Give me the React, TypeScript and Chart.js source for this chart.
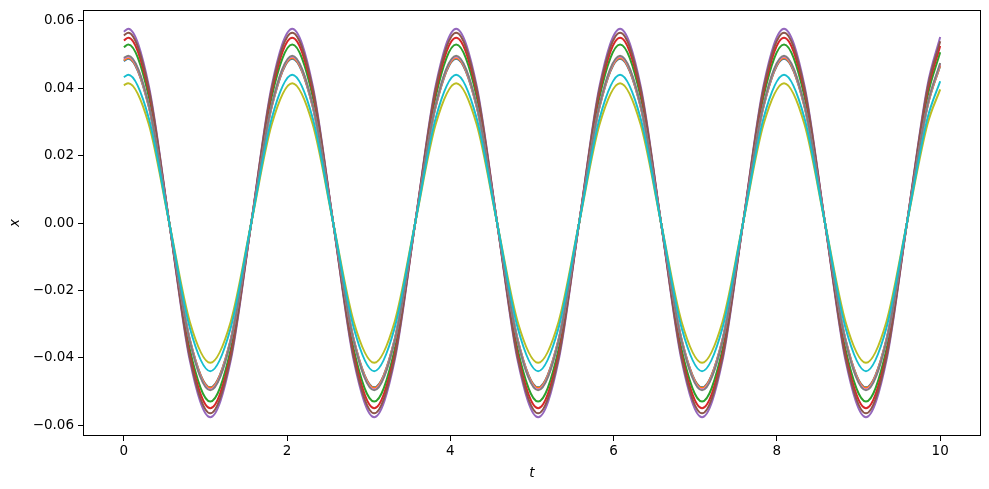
import React, { useEffect, useRef } from "react";
import { Chart, registerables } from "chart.js";

Chart.register(...registerables);

// Sample times (s): start, then every eighth of a period from the first peak, then the end.
const T = [
  0,
  0.055, 0.306, 0.557, 0.808, 1.059, 1.310, 1.561, 1.812,
  2.063, 2.314, 2.565, 2.816, 3.067, 3.318, 3.569, 3.820,
  4.071, 4.322, 4.573, 4.824, 5.075, 5.326, 5.577, 5.828,
  6.079, 6.330, 6.581, 6.832, 7.083, 7.334, 7.585, 7.836,
  8.087, 8.338, 8.589, 8.840, 9.091, 9.342, 9.593, 9.844,
  10.0,
];

const BLUE = [
  0.0481,
  0.0488, 0.0345, 0, -0.0345, -0.0488, -0.0345, 0, 0.0345,
  0.0488, 0.0345, 0, -0.0345, -0.0488, -0.0345, 0, 0.0345,
  0.0488, 0.0345, 0, -0.0345, -0.0488, -0.0345, 0, 0.0345,
  0.0488, 0.0345, 0, -0.0345, -0.0488, -0.0345, 0, 0.0345,
  0.0488, 0.0345, 0, -0.0345, -0.0488, -0.0345, 0, 0.0345,
  0.0467,
];
const ORANGE = [
  0.0483,
  0.0490, 0.0346, 0, -0.0346, -0.0490, -0.0346, 0, 0.0346,
  0.0490, 0.0346, 0, -0.0346, -0.0490, -0.0346, 0, 0.0346,
  0.0490, 0.0346, 0, -0.0346, -0.0490, -0.0346, 0, 0.0346,
  0.0490, 0.0346, 0, -0.0346, -0.0490, -0.0346, 0, 0.0346,
  0.0490, 0.0346, 0, -0.0346, -0.0490, -0.0346, 0, 0.0346,
  0.0468,
];
const GREEN = [
  0.0522,
  0.0530, 0.0375, 0, -0.0375, -0.0530, -0.0375, 0, 0.0375,
  0.0530, 0.0375, 0, -0.0375, -0.0530, -0.0375, 0, 0.0375,
  0.0530, 0.0375, 0, -0.0375, -0.0530, -0.0375, 0, 0.0375,
  0.0530, 0.0375, 0, -0.0375, -0.0530, -0.0375, 0, 0.0375,
  0.0530, 0.0375, 0, -0.0375, -0.0530, -0.0375, 0, 0.0375,
  0.0507,
];
const RED = [
  0.0542,
  0.0550, 0.0389, 0, -0.0389, -0.0550, -0.0389, 0, 0.0389,
  0.0550, 0.0389, 0, -0.0389, -0.0550, -0.0389, 0, 0.0389,
  0.0550, 0.0389, 0, -0.0389, -0.0550, -0.0389, 0, 0.0389,
  0.0550, 0.0389, 0, -0.0389, -0.0550, -0.0389, 0, 0.0389,
  0.0550, 0.0389, 0, -0.0389, -0.0550, -0.0389, 0, 0.0389,
  0.0526,
];
const PURPLE = [
  0.0568,
  0.0577, 0.0408, 0, -0.0408, -0.0577, -0.0408, 0, 0.0408,
  0.0577, 0.0408, 0, -0.0408, -0.0577, -0.0408, 0, 0.0408,
  0.0577, 0.0408, 0, -0.0408, -0.0577, -0.0408, 0, 0.0408,
  0.0577, 0.0408, 0, -0.0408, -0.0577, -0.0408, 0, 0.0408,
  0.0577, 0.0408, 0, -0.0408, -0.0577, -0.0408, 0, 0.0408,
  0.0552,
];
const BROWN = [
  0.0557,
  0.0565, 0.0399, 0, -0.0399, -0.0565, -0.0399, 0, 0.0399,
  0.0565, 0.0399, 0, -0.0399, -0.0565, -0.0399, 0, 0.0399,
  0.0565, 0.0399, 0, -0.0399, -0.0565, -0.0399, 0, 0.0399,
  0.0565, 0.0399, 0, -0.0399, -0.0565, -0.0399, 0, 0.0399,
  0.0565, 0.0399, 0, -0.0399, -0.0565, -0.0399, 0, 0.0399,
  0.0540,
];
const PINK = [
  0.0487,
  0.0494, 0.0349, 0, -0.0349, -0.0494, -0.0349, 0, 0.0349,
  0.0494, 0.0349, 0, -0.0349, -0.0494, -0.0349, 0, 0.0349,
  0.0494, 0.0349, 0, -0.0349, -0.0494, -0.0349, 0, 0.0349,
  0.0494, 0.0349, 0, -0.0349, -0.0494, -0.0349, 0, 0.0349,
  0.0494, 0.0349, 0, -0.0349, -0.0494, -0.0349, 0, 0.0349,
  0.0472,
];
const GRAY = [
  0.0490,
  0.0497, 0.0351, 0, -0.0351, -0.0497, -0.0351, 0, 0.0351,
  0.0497, 0.0351, 0, -0.0351, -0.0497, -0.0351, 0, 0.0351,
  0.0497, 0.0351, 0, -0.0351, -0.0497, -0.0351, 0, 0.0351,
  0.0497, 0.0351, 0, -0.0351, -0.0497, -0.0351, 0, 0.0351,
  0.0497, 0.0351, 0, -0.0351, -0.0497, -0.0351, 0, 0.0351,
  0.0475,
];
const OLIVE = [
  0.0409,
  0.0415, 0.0293, 0, -0.0293, -0.0415, -0.0293, 0, 0.0293,
  0.0415, 0.0293, 0, -0.0293, -0.0415, -0.0293, 0, 0.0293,
  0.0415, 0.0293, 0, -0.0293, -0.0415, -0.0293, 0, 0.0293,
  0.0415, 0.0293, 0, -0.0293, -0.0415, -0.0293, 0, 0.0293,
  0.0415, 0.0293, 0, -0.0293, -0.0415, -0.0293, 0, 0.0293,
  0.0397,
];
const CYAN = [
  0.0433,
  0.0440, 0.0311, 0, -0.0311, -0.0440, -0.0311, 0, 0.0311,
  0.0440, 0.0311, 0, -0.0311, -0.0440, -0.0311, 0, 0.0311,
  0.0440, 0.0311, 0, -0.0311, -0.0440, -0.0311, 0, 0.0311,
  0.0440, 0.0311, 0, -0.0311, -0.0440, -0.0311, 0, 0.0311,
  0.0440, 0.0311, 0, -0.0311, -0.0440, -0.0311, 0, 0.0311,
  0.0421,
];

const SERIES = [BLUE, ORANGE, GREEN, RED, PURPLE, BROWN, PINK, GRAY, OLIVE, CYAN];
const COLORS = [
  "#1f77b4", "#ff7f0e", "#2ca02c", "#d62728", "#9467bd",
  "#8c564b", "#e377c2", "#7f7f7f", "#bcbd22", "#17becf",
];

const X_TICKS = [0, 2, 4, 6, 8, 10];
const Y_TICKS = [-0.06, -0.04, -0.02, 0, 0.02, 0.04, 0.06];

const FONT = "'DejaVu Sans', sans-serif";

const boxPlugin = {
  id: "box",
  afterDraw(chart: any) {
    const { ctx, chartArea } = chart;
    ctx.save();
    ctx.strokeStyle = "#000";
    ctx.lineWidth = 1;
    ctx.strokeRect(
      Math.round(chartArea.left) + 0.5,
      Math.round(chartArea.top) + 0.5,
      Math.round(chartArea.right - chartArea.left) - 1,
      Math.round(chartArea.bottom - chartArea.top) - 1
    );
    ctx.restore();
  },
};

export default function App() {
  const ref = useRef<HTMLCanvasElement | null>(null);

  useEffect(() => {
    if (!ref.current) return;
    const datasets = SERIES.map((ys, i) => ({
      label: `x${i}`,
      data: ys.map((y, j) => ({ x: T[j], y })),
      borderColor: COLORS[i],
      backgroundColor: COLORS[i],
      borderWidth: 2,
      pointRadius: 0,
      fill: false,
      cubicInterpolationMode: "monotone" as const,
      order: SERIES.length - i,
    }));

    const chart = new Chart(ref.current, {
      type: "line",
      data: { datasets },
      plugins: [boxPlugin],
      options: {
        animation: false,
        responsive: false,
        layout: { padding: { left: 0, right: 8, top: 10, bottom: 0 } },
        plugins: { legend: { display: false }, tooltip: { enabled: false } },
        scales: {
          x: {
            type: "linear",
            min: -0.5,
            max: 10.5,
            afterBuildTicks: (s: any) => {
              s.ticks = X_TICKS.map((v) => ({ value: v }));
            },
            afterFit: (s: any) => {
              s.height = 53;
              s.paddingLeft = 0;
              s.paddingRight = 0;
            },
            ticks: {
              font: { family: FONT, size: 13.5 },
              color: "#000",
              padding: 2,
              maxRotation: 0,
              callback: (v: any) => String(v),
            },
            grid: {
              display: true,
              drawOnChartArea: false,
              drawTicks: true,
              tickLength: 5,
              color: "#000",
              lineWidth: 1,
            },
            border: { display: false },
            title: {
              display: true,
              text: "t",
              font: { family: FONT, size: 13.5, style: "italic" },
              color: "#000",
              padding: { top: 0, bottom: 7 },
            },
          },
          y: {
            type: "linear",
            min: -0.06325,
            max: 0.06325,
            afterBuildTicks: (s: any) => {
              s.ticks = Y_TICKS.map((v) => ({ value: v }));
            },
            afterFit: (s: any) => {
              s.width = 83;
              s.paddingTop = 0;
              s.paddingBottom = 0;
            },
            ticks: {
              font: { family: FONT, size: 13.5 },
              color: "#000",
              padding: 4,
              callback: (v: any) => {
                const n = Number(v);
                const r = Math.abs(n) < 1e-9 ? 0 : n;
                return (r < 0 ? "\u2212" : "") + Math.abs(r).toFixed(2);
              },
            },
            grid: {
              display: true,
              drawOnChartArea: false,
              drawTicks: true,
              tickLength: 5,
              color: "#000",
              lineWidth: 1,
            },
            border: { display: false },
            title: {
              display: true,
              text: "x",
              font: { family: FONT, size: 13.5, style: "italic" },
              color: "#000",
              padding: { top: 7, bottom: 0 },
            },
          },
        },
      },
    });
    return () => chart.destroy();
  }, []);

  return (
    <div style={{ position: "absolute", left: 0, top: 0, width: 989, height: 489, background: "#fff" }}>
      <canvas ref={ref} width={989} height={489} style={{ display: "block" }} />
    </div>
  );
}
